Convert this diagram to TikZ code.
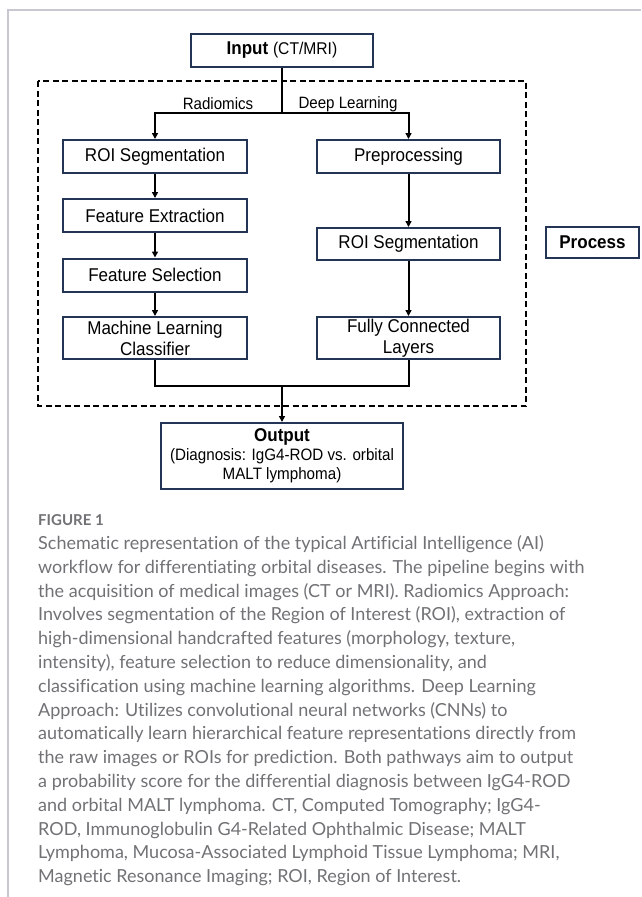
\documentclass[tikz,border=0pt]{standalone}
\usepackage{fontspec}
\usetikzlibrary{arrows.meta}
\setmainfont{Liberation Sans}[FakeStretch=0.92]
\newfontfamily\capfont[Ligatures=NoCommon]{Lato}
\definecolor{boxc}{RGB}{36,52,84}
\definecolor{capc}{RGB}{112,114,118}
\definecolor{framec}{RGB}{200,200,208}
\tikzset{
  stepbox/.style={draw=boxc, line width=2pt, fill=white, align=center, inner sep=0pt,
    font=\fontsize{18.5}{21}\selectfont, text=black},
  conn/.style={line width=2pt, black},
  arr/.style={conn, -{Triangle[length=6pt,width=6pt]}},
  lbl/.style={font=\fontsize{16.4}{19}\selectfont, inner sep=0pt},
  capline/.style={anchor=base west, inner sep=0pt, text=capc, font=\capfont\fontsize{18}{22}\selectfont},
}
\begin{document}
\begin{tikzpicture}[x=1pt,y=-1pt]
\useasboundingbox (0,0) rectangle (641,897);
\fill[white] (0,0) rectangle (641,897);
\draw[framec, line width=1.5pt] (8,897) -- (8,10) -- (641,10);
% dashed process region
\draw[black, line width=2pt, dash pattern=on 6pt off 3.5pt] (38,81) rectangle (526,406);
% nodes
\node[stepbox, minimum width=182pt, minimum height=33pt] (inp) at (282,50.5)
  {\textbf{Input} {\fontsize{17}{19}\selectfont(CT/MRI)}};
\node[stepbox, minimum width=184pt, minimum height=33pt] (roiL) at (155,156.5) {ROI Segmentation};
\node[stepbox, minimum width=184pt, minimum height=33pt] (fe) at (155,215.5) {Feature Extraction};
\node[stepbox, minimum width=184pt, minimum height=33pt] (fs) at (155,275) {Feature Selection};
\node[stepbox, minimum width=184pt, minimum height=42pt] (mlc) at (155,338) {Machine Learning\\Classifier};
\node[stepbox, minimum width=183pt, minimum height=33pt] (pre) at (408.5,156.5) {Preprocessing};
\node[stepbox, minimum width=183pt, minimum height=32pt] (roiR) at (408.5,244) {ROI Segmentation};
\node[stepbox, minimum width=183pt, minimum height=42pt] (fcl) at (408.5,338) {Fully Connected\\Layers};
\node[stepbox, minimum width=93pt, minimum height=31pt] (proc) at (592.5,242.5) {\textbf{Process}};
\node[stepbox, minimum width=242pt, minimum height=66pt] (out) at (282,456)
  {\textbf{Output}\\[-2pt]{\fontsize{16.5}{19}\selectfont(Diagnosis: IgG4-ROD vs. orbital}\\[-2pt]{\fontsize{16.5}{19}\selectfont MALT lymphoma)}};
% labels
\node[lbl] (lr) at (218,104) {Radiomics};
\node[lbl] (ld) at (348,104) {Deep Learning};
% connectors
\coordinate (br) at (282,113);
\coordinate (mg) at (282,386);
\draw[conn] (inp.south) -- (br);
\draw[arr] (br) -| (roiL.north);
\draw[arr] (br) -| (pre.north);
\draw[arr] (roiL.south) -- (fe.north);
\draw[arr] (fe.south) -- (fs.north);
\draw[arr] (fs.south) -- (mlc.north);
\draw[arr] (pre.south) -- (roiR.north);
\draw[arr] (roiR.south) -- (fcl.north);
\draw[conn] (mlc.south) |- (mg);
\draw[conn] (fcl.south) |- (mg);
\draw[arr] (mg) -- (out.north);
% caption
\node[anchor=base west, inner sep=0pt, text=capc, font=\capfont\bfseries\fontsize{15}{18}\selectfont] (fig) at (38,525) {FIGURE 1};
\node[capline] (c1) at (38,549.5) {Schematic representation of the typical Artificial Intelligence (AI)};
\node[capline] (c2) at (38,573.3) {workflow for differentiating orbital diseases. The pipeline begins with};
\node[capline] (c3) at (38,597.1) {the acquisition of medical images (CT or MRI). Radiomics Approach:};
\node[capline] (c4) at (38,620.9) {Involves segmentation of the Region of Interest (ROI), extraction of};
\node[capline] (c5) at (38,644.7) {high-dimensional handcrafted features (morphology, texture,};
\node[capline] (c6) at (38,668.5) {intensity), feature selection to reduce dimensionality, and};
\node[capline] (c7) at (38,692.3) {classification using machine learning algorithms. Deep Learning};
\node[capline] (c8) at (38,716.1) {Approach: Utilizes convolutional neural networks (CNNs) to};
\node[capline] (c9) at (38,739.9) {automatically learn hierarchical feature representations directly from};
\node[capline] (c10) at (38,763.7) {the raw images or ROIs for prediction. Both pathways aim to output};
\node[capline] (c11) at (38,787.5) {a probability score for the differential diagnosis between IgG4-ROD};
\node[capline] (c12) at (38,811.3) {and orbital MALT lymphoma. CT, Computed Tomography; IgG4-};
\node[capline] (c13) at (38,835.1) {ROD, Immunoglobulin G4-Related Ophthalmic Disease; MALT};
\node[capline] (c14) at (38,858.9) {Lymphoma, Mucosa-Associated Lymphoid Tissue Lymphoma; MRI,};
\node[capline] (c15) at (38,882.7) {Magnetic Resonance Imaging; ROI, Region of Interest.};
\end{tikzpicture}
\end{document}
